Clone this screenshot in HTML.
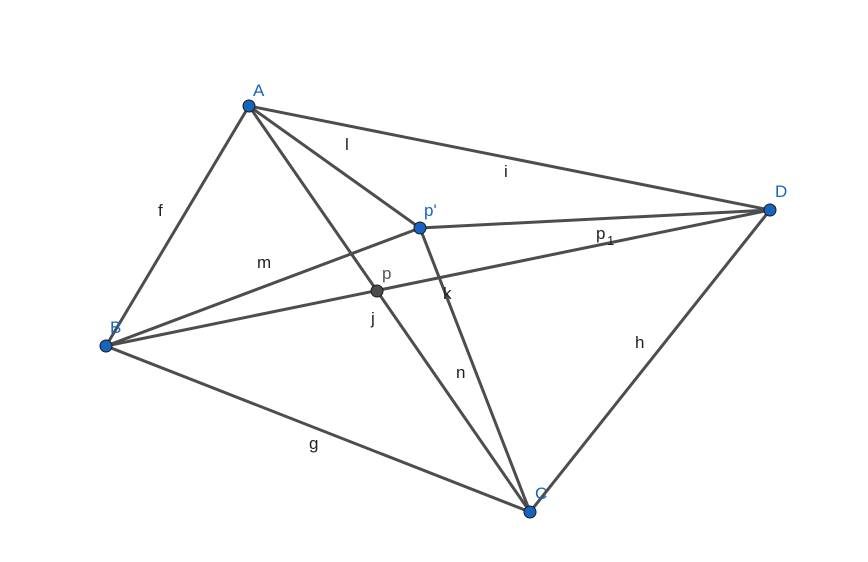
<!DOCTYPE html>
<html><head><meta charset="utf-8"><style>
html,body{margin:0;padding:0;background:#fff;}
svg{display:block;}
text{font-family:"Liberation Sans",sans-serif;font-size:17px;}
</style></head><body>
<svg width="868" height="562" viewBox="0 0 868 562" xmlns="http://www.w3.org/2000/svg">
<g stroke="#4d4d4d" stroke-width="3" stroke-linecap="round" fill="none">
<line x1="249" y1="106" x2="106" y2="346"/>
<line x1="249" y1="106" x2="770" y2="210"/>
<line x1="249" y1="106" x2="530" y2="512"/>
<line x1="249" y1="106" x2="420" y2="228"/>
<line x1="106" y1="346" x2="420" y2="228"/>
<line x1="106" y1="346" x2="770" y2="210"/>
<line x1="106" y1="346" x2="530" y2="512"/>
<line x1="530" y1="512" x2="770" y2="210"/>
<line x1="420" y1="228" x2="530" y2="512"/>
<line x1="420" y1="228" x2="770" y2="210"/>
</g>
<g stroke="#1a1a1a" stroke-width="1">
<circle cx="249" cy="106" r="6" fill="#1565c0"/>
<circle cx="106" cy="346" r="6" fill="#1565c0"/>
<circle cx="530" cy="512" r="6" fill="#1565c0"/>
<circle cx="770" cy="210" r="6" fill="#1565c0"/>
<circle cx="420" cy="228" r="6" fill="#1565c0"/>
<circle cx="377" cy="291" r="6" fill="#4d4d4d"/>
</g>
<g fill="#1565c0">
<text x="253" y="96">A</text>
<text x="110" y="333">B</text>
<text x="535" y="499">C</text>
<text x="775" y="197">D</text>
<text x="424" y="216">p'</text>
</g>
<text x="382" y="279" fill="#555">p</text>
<g fill="#222">
<text x="345" y="150">l</text>
<text x="504" y="177">i</text>
<text x="158" y="216">f</text>
<text x="257" y="268">m</text>
<text x="596" y="239">p</text><text x="607" y="245" style="font-size:13px">1</text>
<text x="443" y="299">k</text>
<text x="371" y="324">j</text>
<text x="456" y="378">n</text>
<text x="635" y="348">h</text>
<text x="309" y="449">g</text>
</g>
</svg>
</body></html>
